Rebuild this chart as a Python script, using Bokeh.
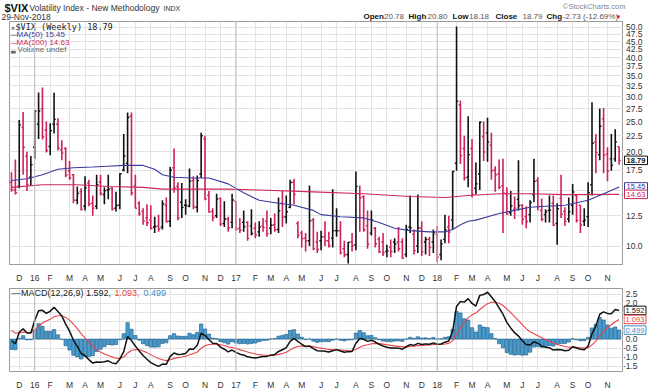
import numpy as np
import pandas as pd
from bokeh.plotting import figure
from bokeh.models import Range1d, FixedTicker, Span, Grid
from bokeh.layouts import column, row
from bokeh.embed import file_html
from bokeh.resources import INLINE
from bokeh.core.properties import value

# ---------------- data (weekly $VIX bars, week starting Monday) ----------------
first_week = "2015-11-23"
open_ = [16.0, 15.1, 15.5, 24.0, 19.4, 16.6, 20.7, 24.5, 27.5, 23.5, 20.8, 24.5, 24.5, 20.3, 20.5, 17.4, 16.9, 14.0, 14.9, 13.4,
         15.9, 13.7, 13.4, 16.0, 14.6, 15.1, 15.3, 13.2, 13.5, 17.5, 18.4, 26.0, 15.6, 13.7, 12.9, 12.3, 12.1, 11.5, 11.6, 11.5,
         13.5, 12.0, 17.8, 15.5, 13.8, 13.5, 13.4, 16.2, 13.3, 17.0, 22.0, 14.5, 12.9, 12.5, 14.2, 11.8, 12.2, 11.9, 13.9, 11.4,
         11.9, 11.9, 11.6, 11.4, 11.1, 11.6, 12.0, 11.4, 11.7, 11.3, 13.7, 12.4, 13.3, 16.0, 11.8, 11.0, 10.6, 10.4, 12.1, 10.3,
         10.4, 10.7, 10.4, 10.6, 11.2, 11.2, 9.8, 9.4, 10.3, 10.1, 14.7, 14.4, 11.6, 11.0, 11.4, 10.5, 10.3, 9.6, 9.9, 10.3,
         10.3, 10.3, 9.4, 11.5, 10.9, 10.0, 11.4, 10.3, 10.5, 10.3, 10.9, 9.4, 10.5, 11.5, 12.1, 18.4, 28.3, 20.5, 16.6, 20.5,
         15.3, 17.0, 22.4, 23.0, 21.0, 17.5, 17.0, 15.6, 14.7, 12.8, 13.1, 14.1, 13.5, 12.4, 12.6, 14.6, 16.2, 13.0, 12.6, 13.0,
         13.7, 11.8, 14.2, 12.9, 12.2, 13.5, 14.5, 13.5, 12.0, 12.4, 15.7, 21.5, 19.6, 25.5, 19.7, 19.0, 19.0, 20.78]
high = [17.2, 18.9, 25.3, 26.8, 20.0, 19.4, 27.1, 30.95, 32.1, 25.0, 24.7, 30.9, 25.6, 21.8, 20.7, 18.7, 17.0, 15.5, 15.3, 16.7,
        16.3, 14.5, 16.9, 16.9, 15.4, 16.9, 15.4, 14.9, 17.1, 22.8, 26.7, 26.7, 16.9, 13.9, 13.2, 13.6, 13.5, 12.4, 12.6, 14.0,
        14.3, 17.9, 20.5, 16.0, 15.9, 14.1, 17.7, 16.7, 16.8, 23.0, 22.5, 15.0, 13.2, 14.7, 14.3, 13.9, 12.4, 14.7, 13.9, 12.3,
        13.0, 12.0, 13.1, 11.9, 12.0, 12.3, 13.0, 12.3, 12.7, 14.3, 15.0, 14.5, 16.3, 16.4, 12.0, 11.2, 11.0, 15.6, 12.3, 11.1,
        11.2, 12.0, 11.1, 15.2, 13.2, 12.0, 10.4, 10.3, 11.0, 17.3, 15.6, 14.5, 13.0, 13.0, 11.5, 10.7, 11.0, 10.1, 10.5, 10.6,
        11.5, 10.6, 11.7, 14.5, 11.3, 14.6, 12.0, 10.7, 10.7, 11.3, 11.6, 10.5, 12.6, 12.5, 17.4, 50.3, 29.2, 22.5, 26.0, 22.0,
        18.5, 25.0, 25.0, 25.7, 23.0, 18.0, 18.9, 19.0, 15.4, 15.0, 14.4, 18.8, 13.6, 13.4, 14.0, 19.0, 16.6, 14.2, 13.1, 14.5,
        14.5, 13.7, 16.9, 13.3, 14.3, 15.8, 14.6, 13.5, 13.2, 16.0, 28.8, 22.8, 27.5, 27.6, 20.7, 22.8, 23.6, 20.80]
low = [14.9, 14.6, 15.3, 16.9, 15.0, 15.6, 19.0, 22.0, 21.9, 19.9, 19.5, 22.9, 20.2, 18.8, 16.6, 16.3, 13.7, 13.6, 13.0, 13.0,
       13.4, 12.5, 13.1, 14.5, 13.6, 14.1, 13.0, 12.9, 13.1, 17.3, 17.1, 14.5, 13.2, 12.5, 11.7, 11.6, 11.3, 11.0, 11.1, 11.3,
       11.9, 11.5, 14.8, 12.1, 12.3, 12.6, 13.3, 13.1, 12.8, 16.5, 14.0, 12.8, 12.0, 12.3, 11.6, 11.5, 11.1, 11.4, 11.2, 11.0,
       11.1, 10.4, 10.8, 10.6, 10.7, 11.1, 10.7, 10.9, 11.1, 11.0, 11.5, 11.8, 13.2, 13.6, 10.6, 9.9, 9.6, 10.0, 9.7, 9.5,
       9.7, 10.0, 9.9, 9.9, 10.7, 9.4, 9.2, 8.8, 9.6, 9.7, 11.1, 11.1, 9.8, 10.8, 9.9, 9.5, 9.3, 9.2, 9.2, 9.5,
       9.6, 9.1, 9.2, 11.0, 9.4, 9.5, 9.3, 9.4, 9.3, 9.5, 8.9, 9.0, 10.2, 10.2, 11.3, 17.4, 18.3, 16.2, 15.4, 14.3,
       14.6, 15.1, 18.7, 18.6, 16.3, 14.9, 15.2, 11.0, 12.6, 12.5, 12.2, 13.0, 11.7, 11.4, 11.9, 13.8, 13.0, 12.0, 11.9, 11.9,
       11.6, 10.1, 12.3, 11.6, 11.9, 12.6, 11.9, 11.0, 11.6, 11.5, 14.5, 17.1, 18.8, 17.1, 16.1, 17.4, 18.6, 18.18]
close = [15.12, 14.81, 24.39, 20.70, 15.74, 18.21, 27.01, 27.02, 22.34, 20.20, 23.38, 25.40, 20.53, 19.81, 16.86, 16.50, 14.02, 14.74, 13.10, 15.36,
         13.62, 13.22, 15.70, 14.72, 15.04, 15.20, 13.12, 13.47, 17.03, 19.41, 25.76, 14.77, 13.20, 12.67, 12.02, 11.87, 11.39, 11.55, 11.34, 13.65,
         11.98, 17.50, 15.37, 12.29, 13.29, 13.48, 16.12, 13.34, 16.19, 22.51, 14.17, 12.85, 12.34, 14.12, 11.75, 12.20, 11.44, 14.04, 11.32, 11.23,
         11.54, 10.58, 10.97, 10.85, 11.49, 11.47, 10.96, 11.66, 11.28, 12.96, 12.37, 12.87, 15.96, 14.63, 10.82, 10.57, 10.40, 12.04, 9.81, 9.75,
         10.70, 10.38, 10.02, 11.18, 11.19, 9.51, 9.36, 10.29, 10.03, 15.51, 14.26, 11.28, 10.13, 12.12, 10.17, 9.59, 9.51, 9.65, 9.61, 10.15,
         9.80, 9.14, 11.29, 11.43, 9.67, 11.43, 9.58, 10.49, 9.90, 11.04, 9.22, 10.16, 11.27, 11.08, 17.31, 29.06, 19.46, 16.49, 19.59, 14.64,
         15.80, 24.87, 19.97, 21.49, 17.41, 16.88, 15.41, 14.77, 12.65, 13.42, 13.22, 13.46, 12.18, 11.98, 13.77, 16.09, 13.37, 12.18, 12.86, 13.03,
         11.64, 13.16, 12.64, 11.99, 12.86, 14.88, 12.07, 11.68, 12.12, 14.82, 21.31, 19.89, 24.16, 19.51, 17.36, 18.14, 21.52, 18.79]
# weekly closes of 2015 before the first bar (MACD warm-up only, not drawn)
warmup_close = [17.79, 17.60, 20.95, 16.66, 20.97, 17.29, 14.69, 14.30, 13.34, 15.20, 16.00, 13.02, 15.07, 14.67, 12.58, 13.89,
                12.29, 12.70, 12.86, 12.38, 12.13, 13.84, 14.21, 13.78, 13.96, 14.02, 16.79, 16.83, 11.95, 13.74, 12.12, 13.39,
                12.83, 28.03, 26.05, 27.80, 23.20, 22.28, 23.62, 17.08, 17.08, 15.05, 14.46, 15.07, 14.33, 20.08, 15.47]
ma50_week = [0, 4, 8, 12, 16, 21, 25, 29, 34, 37, 39, 42, 47, 51, 56, 60, 64, 69, 73, 78,
             80, 85, 91, 95, 99, 103, 108, 112, 114, 116, 118, 120, 126, 130, 134, 138, 143, 149, 153, 157]
ma50_value = [16.2, 16.4, 16.9, 17.6, 17.8, 17.9, 18.0, 18.1, 18.1, 17.6, 16.9, 16.6, 16.5, 16.5, 15.8, 14.8, 14.0, 13.7, 13.5, 13.0,
              12.6, 12.4, 12.3, 11.9, 11.4, 11.2, 11.1, 11.1, 11.3, 11.7, 12.0, 12.1, 12.7, 13.0, 13.3, 13.4, 13.5, 14.0, 14.7, 15.45]
ma200_week = [0, 8, 17, 25, 34, 39, 56, 64, 78, 91, 103, 112, 118, 126, 134, 143, 157]
ma200_value = [15.4, 15.7, 15.7, 15.5, 15.4, 15.2, 15.2, 15.1, 14.9, 14.7, 14.4, 14.3, 14.5, 14.7, 14.7, 14.6, 14.63]
price_ticks = [10.0, 12.5, 15.0, 17.5, 20.0, 22.5, 25.0, 27.5, 30.0, 32.5, 35.0, 37.5, 40.0, 42.5, 45.0, 47.5, 50.0]
price_hidden = [15.0]
macd_ticks = [-1.5, -1.0, -0.5, 0.0, 0.5, 1.0, 1.5, 2.0, 2.5]
macd_hidden = [0.5, 1.0, 1.5]
last_macd, last_signal, last_hist = 1.592, 1.093, 0.499
last_ma50, last_ma200 = 15.45, 14.63
month_letters = ["J", "F", "M", "A", "M", "J", "J", "A", "S", "O", "N", "D"]

# ---------------- derived ----------------
n = len(close)
k = np.arange(n)
dates = pd.date_range(first_week, periods=n, freq="7D")
prev_close = np.array([warmup_close[-1]] + close[:-1])
RED, BLK, NAVY, MRED, BLUE = "#d0215a", "#111111", "#3a3a9c", "#cc2a55", "#3d8fc4"
colors = [BLK if c >= pc else RED for c, pc in zip(close, prev_close)]

def ema(x, span):
    a = 2.0 / (span + 1.0)
    out = np.empty(len(x))
    out[0] = x[0]
    for i in range(1, len(x)):
        out[i] = a * x[i] + (1 - a) * out[i - 1]
    return out

allc = np.array(warmup_close + close, dtype=float)
macd_all = ema(allc, 12) - ema(allc, 26)
sig_all = ema(macd_all, 9)
w = len(warmup_close)
macd = macd_all[w:]
signal = sig_all[w:]
hist = macd - signal

month_k, month_lbl, year_k = [], {}, []
for i in range(1, n):
    if dates[i].month != dates[i - 1].month:
        month_k.append(i)
        if dates[i].month == 1:
            year_k.append(i)
            month_lbl[i] = dates[i].strftime("%y")
        else:
            month_lbl[i] = month_letters[dates[i].month - 1]

FONT = "Liberation Sans"
GRID = "#e2e2e2"
# layout geometry (pixels)
FRAME_L, FRAME_R = 9, 623
PX_PER_WEEK = 3.87
X0 = 11.0                      # pixel of the first weekly bar
def kx(px):                    # pixel -> week index
    return (px - X0) / PX_PER_WEEK
xr = Range1d(kx(FRAME_L), kx(FRAME_R))
P_TOP, P_BOT = 21, 271
yr_price = Range1d(8.73, 52.2)
LO, HI = np.log10(yr_price.start), np.log10(yr_price.end)
def py(px):                    # pixel -> price (log scale)
    return 10 ** (HI - (px - P_TOP) / (P_BOT - P_TOP) * (HI - LO))
def price_px(v):
    return P_TOP + (HI - np.log10(v)) / (HI - LO) * (P_BOT - P_TOP)
M_TOP, M_BOT = 288, 377
yr_macd = Range1d(-1.80, 2.81)
def my(px):
    return yr_macd.end - (px - M_TOP) / (M_BOT - M_TOP) * (yr_macd.end - yr_macd.start)
def macd_px(v):
    return M_TOP + (yr_macd.end - v) / (yr_macd.end - yr_macd.start) * (M_BOT - M_TOP)
ident = lambda v: v

def txt(fig, conv, x, cy, t, size, color="#222222", bold=False, align="left", font=FONT):
    # cy: pixel row of the text's centre
    fig.text(x=[x], y=[conv(cy)], text=[t], text_font=value(font),
             text_font_size=value("%gpx" % size), text_font_style="bold" if bold else "normal",
             text_color=color, text_align=align, text_baseline="middle")

# ---------------- header ----------------
hdr = figure(width=650, height=21, x_range=Range1d(0, 650), y_range=Range1d(21, 0),
             toolbar_location=None, output_backend="svg", x_axis_type=None, y_axis_type=None,
             min_border=0, outline_line_color=None)
hdr.grid.visible = False
txt(hdr, ident, 4, 7, "$VIX", 11, "#111111", True)
txt(hdr, ident, 29, 7.5, "Volatility Index - New Methodology", 8.5, "#333333")
txt(hdr, ident, 163, 7.5, "INDX", 7, "#333333")
txt(hdr, ident, 1, 16, "29-Nov-2018", 8.5, "#333333")
txt(hdr, ident, 625, 6, "\u00a9StockCharts.com", 7.5, "#888888", align="right")
for x, t, b in [(363, "Open", True), (383.5, "20.78", False), (408, "High", True), (427, "20.80", False),
                (452, "Low", True), (468.5, "18.18", False), (495, "Close", True), (522, "18.79", False),
                (546, "Chg", True), (562, "-2.73 (-12.69%)", False)]:
    txt(hdr, ident, x, 16, t, 8, "#111111" if b else "#555555", b)
txt(hdr, ident, 615, 16, "\u25bc", 6, "#cc1144")

def style_panel(fig, yticks):
    fig.xaxis.ticker = FixedTicker(ticks=month_k)
    fig.xaxis.major_label_overrides = month_lbl
    fig.xaxis.major_label_text_font = FONT
    fig.xaxis.major_label_text_font_size = "8.5px"
    fig.xaxis.major_label_text_color = "#333333"
    fig.xaxis.major_tick_line_color = None
    fig.xaxis.minor_tick_line_color = None
    fig.xaxis.axis_line_color = None
    fig.xaxis.major_label_standoff = 2
    fig.xgrid.grid_line_color = GRID
    fig.add_layout(Grid(dimension=1, ticker=FixedTicker(ticks=yticks), grid_line_color=GRID))
    fig.outline_line_color = "#9a9a9a"
    for yk in year_k:
        fig.add_layout(Span(location=yk, dimension="height", line_color="#bdbdbd", line_width=1))

def strip(height, yrange, log, top, bottom, ticks, hidden, tick_x, boxes, conv, to_px):
    s = figure(width=650 - FRAME_R, height=height, x_range=Range1d(0, 650 - FRAME_R), y_range=yrange,
               y_axis_type="log" if log else "linear", x_axis_location=None, y_axis_location=None,
               toolbar_location=None, output_backend="svg", min_border_left=0, min_border_right=0,
               min_border_top=top, min_border_bottom=bottom, outline_line_color=None)
    s.grid.visible = False
    for t in ticks:
        if t not in hidden:
            txt(s, conv, tick_x, to_px(t), "%.1f" % t, 8.5, "#333333", align="right")
    for (yv, t, col, bold, xc, wd) in boxes:
        s.rect(x=[xc], y=[yv], width=wd, height=8.5, height_units="screen", fill_color="white",
               line_color=col, line_width=1)
    for (yv, t, col, bold, xc, wd) in boxes:
        txt(s, conv, xc, to_px(yv), t, 7.5, col, bold, "center")
    return s

# ---------------- price panel ----------------
p = figure(width=FRAME_R, height=264, x_range=xr, y_range=yr_price, y_axis_type="log",
           y_axis_location=None, toolbar_location=None, output_backend="svg",
           min_border_left=FRAME_L, min_border_right=0, min_border_top=0, min_border_bottom=285 - P_BOT)
style_panel(p, price_ticks)
p.segment(x0=k, y0=low, x1=k, y1=high, color=colors, line_width=1.6)
p.segment(x0=k - 0.45, y0=open_, x1=k, y1=open_, color=colors, line_width=1.4)
p.segment(x0=k, y0=close, x1=k + 0.45, y1=close, color=colors, line_width=1.4)
p.line(ma200_week, ma200_value, color=MRED, line_width=1.1)
p.line(ma50_week, ma50_value, color=NAVY, line_width=1.1)
txt(p, py, kx(10), 26.7, "\u2a5a", 7, "#444444")
txt(p, py, kx(15), 26.7, "$VIX (Weekly) 18.79", 8.5, "#222222", font="DejaVu Sans Mono")
txt(p, py, kx(10), 34.3, "\u2014", 7, NAVY)
txt(p, py, kx(16), 34.3, "MA(50) %.2f" % last_ma50, 8, NAVY)
txt(p, py, kx(10), 42.3, "\u2014", 7, MRED)
txt(p, py, kx(16), 42.3, "MA(200) %.2f" % last_ma200, 8, MRED)
txt(p, py, kx(10), 50.3, "\u2583", 6, "#666666")
txt(p, py, kx(17), 50.3, "Volume undef", 8, "#666666")
ps = strip(264, yr_price, True, 0, 285 - P_BOT, price_ticks, price_hidden, 19,
           [(close[-1], "18.79", BLK, True, 12.5, 23), (last_ma50, "15.45", NAVY, False, 12.5, 23),
            (last_ma200, "14.63", MRED, False, 12.5, 23)], py, price_px)

# ---------------- MACD panel ----------------
m = figure(width=FRAME_R, height=107, x_range=xr, y_range=yr_macd, y_axis_location=None,
           toolbar_location=None, output_backend="svg",
           min_border_left=FRAME_L, min_border_right=0, min_border_top=M_TOP - 285, min_border_bottom=392 - M_BOT)
style_panel(m, macd_ticks)
m.vbar(x=k, top=hist, bottom=0, width=0.85, fill_color="#4b9dd0", line_color="#23648f", line_width=0.7)
m.line(k, signal, color="#e8424a", line_width=1.1)
m.line(k, macd, color="#111111", line_width=1.5)
txt(m, my, kx(11), 293.3, "\u2014", 9, "#111111")
txt(m, my, kx(20.5), 293.3, "MACD(12,26,9) %.3f," % last_macd, 9, "#222222")
txt(m, my, kx(114), 293.3, "%.3f," % last_signal, 9, "#e8424a")
txt(m, my, kx(143), 293.3, "%.3f" % last_hist, 9, BLUE)
ms = strip(107, yr_macd, False, M_TOP - 285, 392 - M_BOT, macd_ticks, macd_hidden, 14,
           [(last_macd, "1.592", BLK, False, 11.5, 22), (last_signal, "1.093", "#e8424a", False, 11.5, 22),
            (last_hist, "0.499", BLUE, False, 11.5, 22)], my, macd_px)

layout = column(hdr, row(p, ps, spacing=0), row(m, ms, spacing=0), spacing=0)
open("out.html", "w").write(file_html(layout, INLINE))
